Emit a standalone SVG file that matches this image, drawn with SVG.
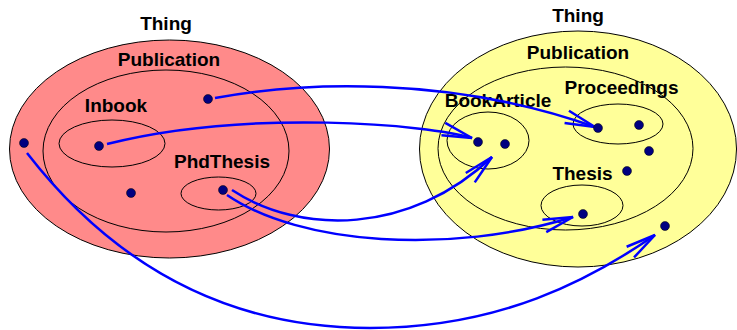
<svg xmlns="http://www.w3.org/2000/svg" width="737" height="330" viewBox="0 0 737 330">
  <style>
    .set { stroke: #000; stroke-width: 1; }
    .inner { fill: none; }
    .left { fill: #ff8a8a; }
    .right { fill: #ffff99; }
    .label { font-family: "Liberation Sans", Arial, sans-serif; font-weight: bold; font-size: 19px; fill: #000; text-anchor: middle; }
    .link { fill: none; stroke: #0000ff; stroke-width: 2.5; marker-end: url(#open); }
    .dot { fill: #000080; stroke: #000; stroke-width: 0.5; }
  </style>
  <defs>
    <marker id="open" markerUnits="userSpaceOnUse" markerWidth="40" markerHeight="20" viewBox="-32 -10 40 20" refX="0" refY="0" orient="auto" overflow="visible">
      <path d="M-30,-6.5 L0,0 L-30,6.5" fill="none" stroke="#0000ff" stroke-width="2.5"/>
    </marker>
  </defs>

  <!-- left-hand model -->
  <g id="thing-left">
    <ellipse class="set left" cx="169.5" cy="149" rx="160" ry="109"/>
    <text class="label" x="166" y="30">Thing</text>
  </g>
  <g id="publication-left">
    <ellipse class="set inner" cx="166" cy="151" rx="123" ry="81"/>
    <text class="label" x="169" y="66">Publication</text>
  </g>
  <g id="inbook">
    <ellipse class="set inner" cx="112" cy="143.5" rx="53" ry="23.5"/>
    <text class="label" x="116" y="112">Inbook</text>
  </g>
  <g id="phdthesis">
    <ellipse class="set inner" cx="218.5" cy="193.5" rx="37.5" ry="16.5"/>
    <text class="label" x="222" y="168">PhdThesis</text>
  </g>

  <!-- right-hand model -->
  <g id="thing-right">
    <ellipse class="set right" cx="578" cy="149" rx="158.5" ry="118"/>
    <text class="label" x="578" y="22">Thing</text>
  </g>
  <g id="publication-right">
    <ellipse class="set inner" cx="565.5" cy="148.5" rx="127.5" ry="81.5"/>
    <text class="label" x="578" y="59">Publication</text>
  </g>
  <g id="bookarticle">
    <ellipse class="set inner" cx="488" cy="140.5" rx="41" ry="28.5"/>
    <text class="label" x="498" y="107">BookArticle</text>
  </g>
  <g id="proceedings">
    <ellipse class="set inner" cx="618" cy="124" rx="45" ry="20"/>
    <text class="label" x="621.5" y="94">Proceedings</text>
  </g>
  <g id="thesis">
    <ellipse class="set inner" cx="582" cy="205.5" rx="41" ry="20.5"/>
    <text class="label" x="582.5" y="180">Thesis</text>
  </g>

  <!-- mappings between instances -->
  <g id="connectors">
    <path class="link" d="M215,98 C300,82 450,75 595,127"/>
    <path class="link" d="M107,144 C250,108 430,125 472,138"/>
    <path class="link" d="M232,190 C300,235 410,235 492,157"/>
    <path class="link" d="M227,195 C300,245 450,255 573,217"/>
    <path class="link" d="M27,153 C110,260 220,328 370,328 C500,328 590,280 655,235"/>
  </g>

  <!-- instances -->
  <g id="instances-left">
    <circle class="dot" cx="24" cy="143" r="4.5"/>
    <circle class="dot" cx="99" cy="146" r="4.5"/>
    <circle class="dot" cx="208" cy="99" r="4.5"/>
    <circle class="dot" cx="131" cy="193" r="4.5"/>
    <circle class="dot" cx="223" cy="190" r="4.5"/>
  </g>
  <g id="instances-right">
    <circle class="dot" cx="478" cy="142" r="4.5"/>
    <circle class="dot" cx="505" cy="144" r="4.5"/>
    <circle class="dot" cx="598" cy="128" r="4.5"/>
    <circle class="dot" cx="639" cy="125" r="4.5"/>
    <circle class="dot" cx="649" cy="151" r="4.5"/>
    <circle class="dot" cx="627" cy="171" r="4.5"/>
    <circle class="dot" cx="583" cy="214" r="4.5"/>
    <circle class="dot" cx="665" cy="226" r="4.5"/>
  </g>
</svg>
